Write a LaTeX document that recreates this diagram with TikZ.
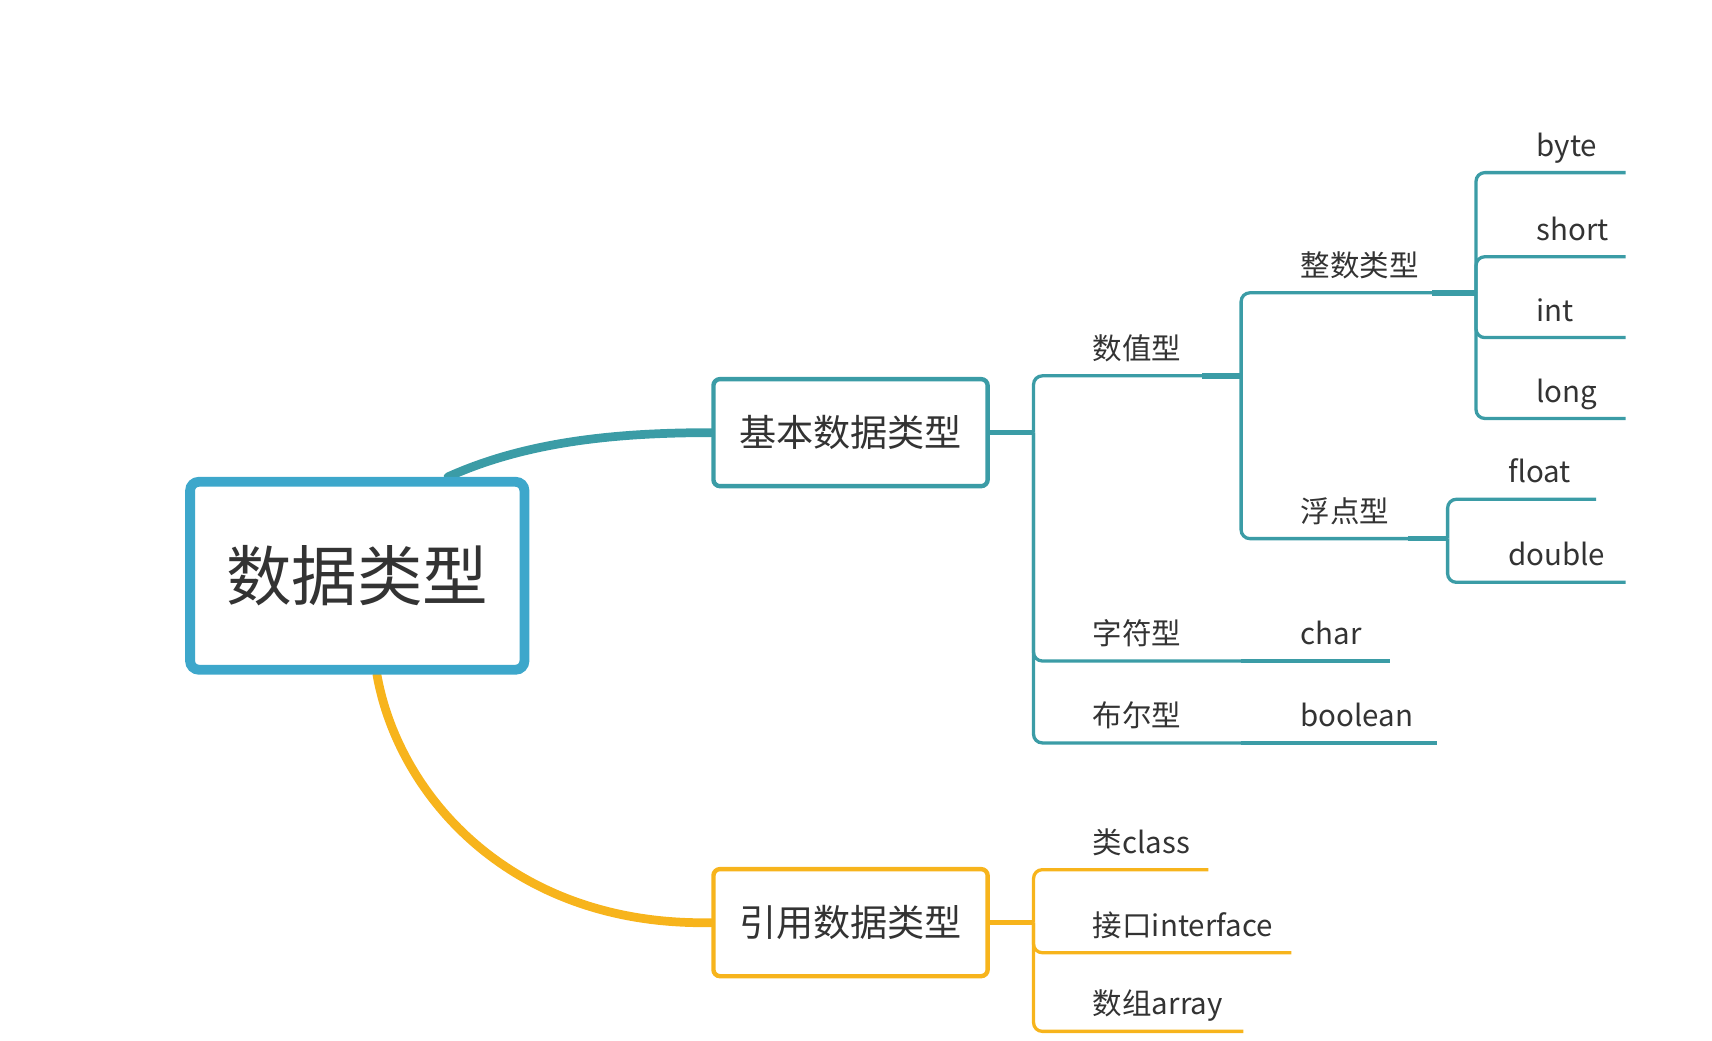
\documentclass[tikz,border=0pt]{standalone}
\usepackage{fontspec}
\setmainfont{Noto Sans CJK SC}
\usetikzlibrary{calc,backgrounds}
\definecolor{rootblue}{HTML}{3DA7CB}
\definecolor{mmteal}{HTML}{3B9CA6}
\definecolor{mmorange}{HTML}{F7B41C}
\definecolor{txt}{HTML}{333333}
\begin{document}
\begin{tikzpicture}[x=0.5pt,y=-0.5pt,
  rootbox/.style={draw=rootblue,line width=4.5pt,rounded corners=4pt,minimum width=153pt,minimum height=86pt,font=\fontsize{30}{30}\selectfont,text=txt,fill=white},
  mainbox/.style={line width=2pt,rounded corners=3pt,minimum width=125.5pt,minimum height=49pt,font=\fontsize{17}{17}\selectfont,text=txt,fill=white},
  lbl/.style={anchor=base west,inner sep=0pt,font=\fontsize{13.5}{13.5}\selectfont,text=txt},
  br/.style={line width=1.5pt,rounded corners=4pt},
  brk/.style={line width=2.6pt},
  stem/.style={line width=2.2pt},
  curve/.style={line width=4pt,line cap=round}]
\useasboundingbox (0,0) rectangle (1567,952);
% main nodes
\node[rootbox] (root) at (327,527) {数据类型};
\node[mainbox,draw=mmteal] (b1) at (778.5,396) {基本数据类型};
\node[mainbox,draw=mmorange] (b2) at (778.5,844.5) {引用数据类型};
% curves
\begin{scope}[on background layer]
\draw[curve,mmteal] ([xshift=41.5pt]root.north) .. controls (480,405) and (560,396) .. (b1.west);
\draw[curve,mmorange] ([xshift=9pt]root.south) .. controls (365,730) and (470,848) .. (b2.west);
\end{scope}
% ---- basic types
\coordinate (j1) at (b1.east -| 946,0);
\coordinate (szE) at (1136,344);
\coordinate (zfE) at (1136,605);
\coordinate (beE) at (1136,680);
\coordinate (chE) at (1272,605);
\coordinate (boE) at (1315,680);
\draw[stem,mmteal] (b1.east) -- (j1);
\draw[br,mmteal] (j1) |- (szE);
\draw[br,mmteal] (j1) |- (zfE);
\draw[br,mmteal] (j1) |- (beE);
\draw[brk,mmteal] ($(szE)+(-36,0)$) -- (szE);
\draw[br,mmteal] (zfE) -- (chE);
\draw[br,mmteal] (beE) -- (boE);
\node[lbl] (sz) at (1000,329) {数值型};
\node[lbl] (zf) at (1000,590) {字符型};
\node[lbl] (be) at (1000,665) {布尔型};
\node[lbl] (ch) at (1190,590) {char};
\node[lbl] (bo) at (1190,665) {boolean};
% level 2
\coordinate (zsE) at (1351,268);
\coordinate (fdE) at (1325,493);
\draw[br,mmteal] (szE) |- (zsE);
\draw[br,mmteal] (szE) |- (fdE);
\draw[brk,mmteal] ($(zsE)+(-40,0)$) -- (zsE);
\draw[brk,mmteal] ($(fdE)+(-36,0)$) -- (fdE);
\node[lbl] (zs) at (1190,253) {整数类型};
\node[lbl] (fd) at (1190,478) {浮点型};
% level 3 integer
\coordinate (byE) at (1488,158);
\coordinate (shE) at (1488,235);
\coordinate (inE) at (1488,309);
\coordinate (loE) at (1488,383);
\draw[br,mmteal] (zsE) |- (byE);
\draw[br,mmteal] (zsE) |- (shE);
\draw[br,mmteal] (zsE) |- (inE);
\draw[br,mmteal] (zsE) |- (loE);
\node[lbl] (by) at (1406,143) {byte};
\node[lbl] (sh) at (1406,220) {short};
\node[lbl] (in) at (1406,294) {int};
\node[lbl] (lo) at (1406,368) {long};
% level 3 float
\coordinate (flE) at (1461,457);
\coordinate (doE) at (1488,533);
\draw[br,mmteal] (fdE) |- (flE);
\draw[br,mmteal] (fdE) |- (doE);
\node[lbl] (fl) at (1380,442) {float};
\node[lbl] (do) at (1380,518) {double};
% ---- reference types
\coordinate (j2) at (b2.east -| 946,0);
\coordinate (clE) at (1106,796);
\coordinate (ifE) at (1182,872);
\coordinate (arE) at (1138,944);
\draw[stem,mmorange] (b2.east) -- (j2);
\draw[br,mmorange] (j2) |- (clE);
\draw[br,mmorange] (j2) |- (ifE);
\draw[br,mmorange] (j2) |- (arE);
\node[lbl] (cl) at (1000,781) {类class};
\node[lbl] (if) at (1000,857) {接口interface};
\node[lbl] (ar) at (1000,929) {数组array};
\end{tikzpicture}
\end{document}
